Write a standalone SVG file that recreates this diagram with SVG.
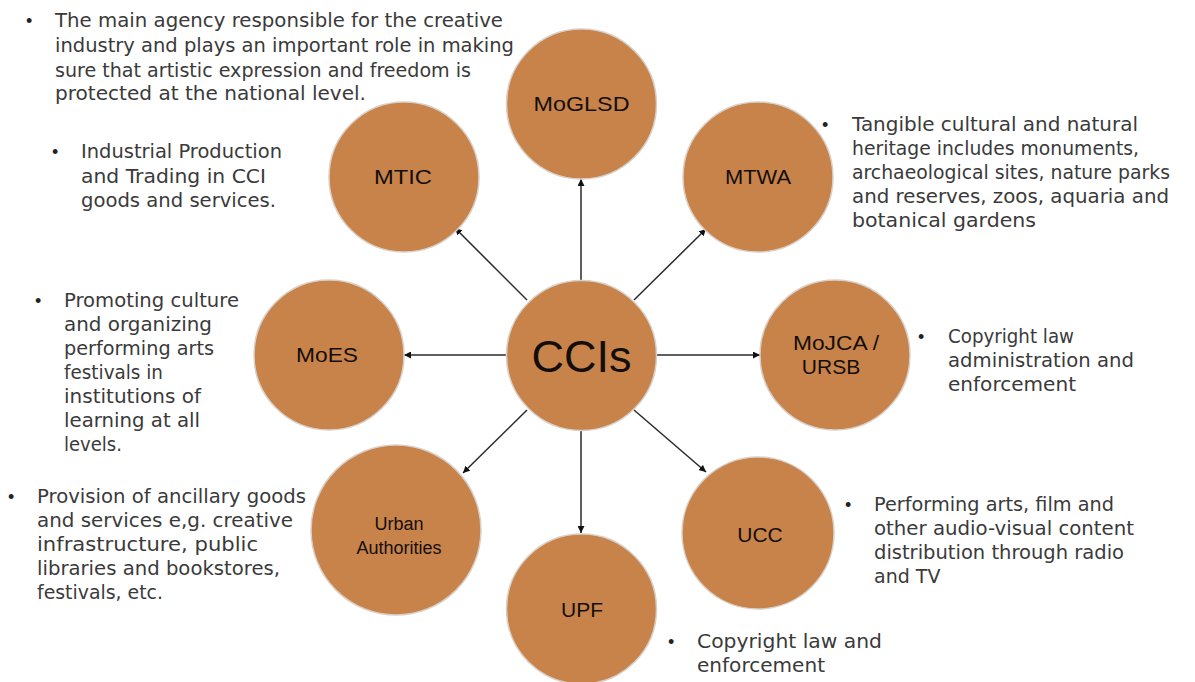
<svg xmlns="http://www.w3.org/2000/svg" width="1195" height="682" viewBox="0 0 1195 682">
<style>
.node{fill:#C8834A;stroke:#d8d0c8;stroke-width:1.5}
.lbl{font-family:"Liberation Sans",Arial,sans-serif;font-size:21px;fill:#140e0a;text-anchor:middle}
.body{font-family:"DejaVu Sans","Liberation Sans",sans-serif;font-size:19px;fill:#3a3a3a}
.bul{font-family:"Liberation Sans",Arial,sans-serif;font-size:18px;fill:#222}
.conn line{stroke:#2a2a2a;stroke-width:1.5;marker-end:url(#ah)}
</style>
<defs>
<marker id="ah" viewBox="0 0 10 10" refX="10" refY="5" markerWidth="7" markerHeight="7" markerUnits="userSpaceOnUse" orient="auto">
<path d="M0,0 L10,5 L0,10 z" fill="#111"/>
</marker>
</defs>
<rect width="1195" height="682" fill="#fff"/>

<g id="connectors" class="conn">
<line x1="581" y1="280" x2="581" y2="179"/>
<line x1="527" y1="300" x2="455" y2="228"/>
<line x1="634" y1="300" x2="706" y2="229"/>
<line x1="506" y1="355" x2="404" y2="355"/>
<line x1="657" y1="355" x2="760" y2="355"/>
<line x1="527" y1="410" x2="463" y2="473"/>
<line x1="581" y1="431" x2="581" y2="533"/>
<line x1="634" y1="410" x2="706" y2="472"/>
</g>

<g id="node-ccis"><circle class="node" cx="581.5" cy="355.5" r="75"/><text class="lbl" x="581.5" y="372" style="font-size:45px">CCIs</text></g>
<g id="node-moglsd"><circle class="node" cx="581.5" cy="104" r="75"/><text class="lbl" x="581.5" y="111" textLength="96" lengthAdjust="spacingAndGlyphs">MoGLSD</text></g>
<g id="node-mtic"><circle class="node" cx="404" cy="177" r="75"/><text class="lbl" x="403" y="184" textLength="58" lengthAdjust="spacingAndGlyphs">MTIC</text></g>
<g id="node-mtwa"><circle class="node" cx="758" cy="177" r="75"/><text class="lbl" x="758" y="184" textLength="66" lengthAdjust="spacingAndGlyphs">MTWA</text></g>
<g id="node-moes"><circle class="node" cx="329" cy="355" r="75"/><text class="lbl" x="327" y="362" textLength="62" lengthAdjust="spacingAndGlyphs">MoES</text></g>
<g id="node-mojca"><circle class="node" cx="835" cy="355" r="75"/><text class="lbl" x="836" y="350" textLength="86" lengthAdjust="spacingAndGlyphs">MoJCA /</text><text class="lbl" x="831" y="374">URSB</text></g>
<g id="node-urban"><circle class="node" cx="396" cy="530" r="85"/><text class="lbl" x="399" y="530" style="font-size:18px">Urban</text><text class="lbl" x="399" y="554" style="font-size:18px">Authorities</text></g>
<g id="node-upf"><circle class="node" cx="581.5" cy="609" r="75"/><text class="lbl" x="582" y="617">UPF</text></g>
<g id="node-ucc"><circle class="node" cx="758" cy="533" r="76"/><text class="lbl" x="760" y="542">UCC</text></g>

<g id="text-moglsd">
<text class="bul" x="26" y="27">•</text>
<text class="body" x="55" y="27" textLength="448" lengthAdjust="spacingAndGlyphs">The main agency responsible for the creative</text>
<text class="body" x="55" y="52" textLength="459" lengthAdjust="spacingAndGlyphs">industry and plays an important role in making</text>
<text class="body" x="55" y="77" textLength="416" lengthAdjust="spacingAndGlyphs">sure that artistic expression and freedom is</text>
<text class="body" x="55" y="100" textLength="311" lengthAdjust="spacingAndGlyphs">protected at the national level.</text>
</g>
<g id="text-mtic">
<text class="bul" x="52" y="158">•</text>
<text class="body" x="81" y="158" textLength="201" lengthAdjust="spacingAndGlyphs">Industrial Production</text>
<text class="body" x="81" y="183" textLength="185" lengthAdjust="spacingAndGlyphs">and Trading in CCI</text>
<text class="body" x="81" y="207" textLength="195" lengthAdjust="spacingAndGlyphs">goods and services.</text>
</g>
<g id="text-mtwa">
<text class="bul" x="822" y="131">•</text>
<text class="body" x="852" y="131" textLength="286" lengthAdjust="spacingAndGlyphs">Tangible cultural and natural</text>
<text class="body" x="852" y="155" textLength="287" lengthAdjust="spacingAndGlyphs">heritage includes monuments,</text>
<text class="body" x="852" y="179" textLength="318" lengthAdjust="spacingAndGlyphs">archaeological sites, nature parks</text>
<text class="body" x="852" y="203" textLength="317" lengthAdjust="spacingAndGlyphs">and reserves, zoos, aquaria and</text>
<text class="body" x="852" y="227" textLength="184" lengthAdjust="spacingAndGlyphs">botanical gardens</text>
</g>
<g id="text-moes">
<text class="bul" x="35" y="307">•</text>
<text class="body" x="64" y="307" textLength="175" lengthAdjust="spacingAndGlyphs">Promoting culture</text>
<text class="body" x="64" y="331" textLength="148" lengthAdjust="spacingAndGlyphs">and organizing</text>
<text class="body" x="64" y="355" textLength="150" lengthAdjust="spacingAndGlyphs">performing arts</text>
<text class="body" x="64" y="379" textLength="99" lengthAdjust="spacingAndGlyphs">festivals in</text>
<text class="body" x="64" y="403" textLength="137" lengthAdjust="spacingAndGlyphs">institutions of</text>
<text class="body" x="64" y="427" textLength="136" lengthAdjust="spacingAndGlyphs">learning at all</text>
<text class="body" x="64" y="451" textLength="58" lengthAdjust="spacingAndGlyphs">levels.</text>
</g>
<g id="text-mojca">
<text class="bul" x="918" y="343">•</text>
<text class="body" x="948" y="343" textLength="126" lengthAdjust="spacingAndGlyphs">Copyright law</text>
<text class="body" x="948" y="367" textLength="186" lengthAdjust="spacingAndGlyphs">administration and</text>
<text class="body" x="948" y="391" textLength="128" lengthAdjust="spacingAndGlyphs">enforcement</text>
</g>
<g id="text-urban">
<text class="bul" x="8" y="503">•</text>
<text class="body" x="37" y="503" textLength="269" lengthAdjust="spacingAndGlyphs">Provision of ancillary goods</text>
<text class="body" x="37" y="527" textLength="256" lengthAdjust="spacingAndGlyphs">and services e,g. creative</text>
<text class="body" x="37" y="551" textLength="221" lengthAdjust="spacingAndGlyphs">infrastructure, public</text>
<text class="body" x="37" y="575" textLength="243" lengthAdjust="spacingAndGlyphs">libraries and bookstores,</text>
<text class="body" x="37" y="599" textLength="126" lengthAdjust="spacingAndGlyphs">festivals, etc.</text>
</g>
<g id="text-ucc">
<text class="bul" x="845" y="511">•</text>
<text class="body" x="874" y="511" textLength="240" lengthAdjust="spacingAndGlyphs">Performing arts, film and</text>
<text class="body" x="874" y="535" textLength="260" lengthAdjust="spacingAndGlyphs">other audio-visual content</text>
<text class="body" x="874" y="559" textLength="250" lengthAdjust="spacingAndGlyphs">distribution through radio</text>
<text class="body" x="874" y="583">and TV</text>
</g>
<g id="text-upf">
<text class="bul" x="668" y="648">•</text>
<text class="body" x="697" y="648" textLength="185" lengthAdjust="spacingAndGlyphs">Copyright law and</text>
<text class="body" x="697" y="672" textLength="128" lengthAdjust="spacingAndGlyphs">enforcement</text>
</g>
</svg>
